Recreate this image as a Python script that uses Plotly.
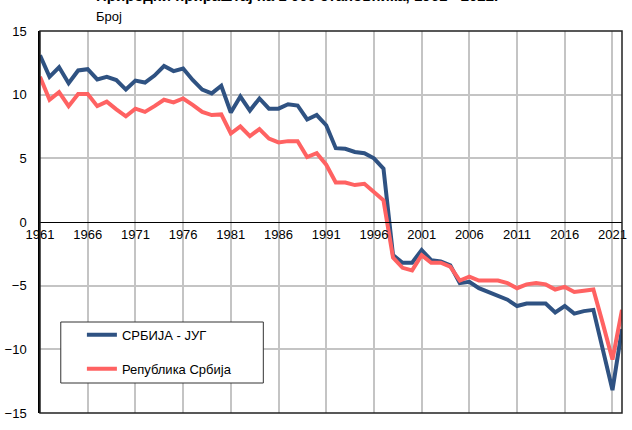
# -*- coding: utf-8 -*-
# natural increase per 1000 inhabitants, 1961-2022
import plotly.graph_objects as go

years = list(range(1961, 2023))

# СРБИЈА - ЈУГ
jug = [13.1, 11.4, 12.15, 10.9, 11.9, 12.0, 11.2, 11.4, 11.15, 10.4,
       11.1, 10.95, 11.5, 12.25, 11.85, 12.05, 11.15, 10.4, 10.1, 10.7,
       8.6, 9.85, 8.75, 9.7, 8.9, 8.9, 9.25, 9.15, 8.05, 8.4,
       7.6, 5.8, 5.75, 5.5, 5.4, 5.0, 4.2, -2.6, -3.2, -3.2,
       -2.2, -3.0, -3.1, -3.4, -4.8, -4.7, -5.2, -5.5, -5.8, -6.1,
       -6.6, -6.4, -6.4, -6.4, -7.1, -6.6, -7.2, -7.0, -6.9, -10.0,
       -13.2, -8.4]

# Република Србија
srb = [11.4, 9.6, 10.2, 9.1, 10.05, 10.05, 9.1, 9.45, 8.85, 8.3,
       8.9, 8.65, 9.1, 9.6, 9.4, 9.7, 9.2, 8.65, 8.4, 8.45,
       6.95, 7.5, 6.75, 7.3, 6.55, 6.25, 6.35, 6.35, 5.1, 5.4,
       4.5, 3.1, 3.1, 2.9, 3.0, 2.3, 1.7, -2.8, -3.6, -3.8,
       -2.6, -3.2, -3.2, -3.5, -4.6, -4.3, -4.6, -4.6, -4.6, -4.8,
       -5.2, -4.9, -4.8, -4.9, -5.3, -5.1, -5.5, -5.4, -5.3, -8.0,
       -10.8, -6.9]

xticks = list(range(1961, 2022, 5))

blue = "#2f5282"
red = "#ff6262"
font = "Liberation Sans, Arial, sans-serif"

fig = go.Figure()
fig.add_trace(go.Scatter(x=years, y=jug, mode="lines", name="СРБИЈА - ЈУГ",
                         legendgroup="a", line=dict(color=blue, width=4)))
fig.add_trace(go.Scatter(x=years, y=srb, mode="lines", name="Република Србија",
                         legendgroup="b", line=dict(color=red, width=4)))

fig.update_layout(
    width=632, height=430,
    margin=dict(l=38, r=5, t=31, b=17),
    paper_bgcolor="white", plot_bgcolor="white",
    font=dict(family=font, size=13, color="black"),
    showlegend=True,
    legend=dict(x=0.072, y=0.244, xanchor="left", yanchor="top",
                bgcolor="rgba(0,0,0,0)", borderwidth=0,
                tracegroupgap=14, font=dict(size=13)),
    xaxis=dict(range=[1961, 2022], tickvals=xticks, showgrid=True,
               gridcolor="#c4c4c4", gridwidth=1.5, anchor="free", position=0.5,
               showline=True, linecolor="black", linewidth=1, zeroline=False,
               ticks=""),
    yaxis=dict(range=[-15, 15], dtick=5, showgrid=True, gridcolor="#c4c4c4",
               gridwidth=1.5, zeroline=True, zerolinecolor="black",
               zerolinewidth=1, showline=True, linecolor="black", linewidth=1.5,
               ticks="outside", ticklen=9, tickcolor="rgba(0,0,0,0)"),
    shapes=[
        dict(type="rect", xref="paper", yref="paper", x0=0, x1=1, y0=0, y1=1,
             line=dict(color="#222222", width=1.5), layer="above"),
        dict(type="rect", xref="paper", yref="paper", x0=0.0357, x1=0.3837,
             y0=0.0785, y1=0.2382, fillcolor="white",
             line=dict(color="#333333", width=1), layer="above"),
    ],
    annotations=[
        dict(text="<b>Природни прираштај на 1 000 становника, 1961 - 2022.</b>",
             xref="paper", yref="paper", x=(93 - 38) / 589, y=1.066,
             xanchor="left", yanchor="bottom", showarrow=False,
             font=dict(size=15)),
        dict(text="Број", xref="paper", yref="paper", x=(93 - 38) / 589,
             y=1.014, xanchor="left", yanchor="bottom", showarrow=False,
             font=dict(size=13)),
    ],
)

# page body has an 8px default margin; drop it so the chart sits at 0,0
fig.write_html("out.html", config={"displayModeBar": False},
               post_script="document.body.style.margin='0';")
